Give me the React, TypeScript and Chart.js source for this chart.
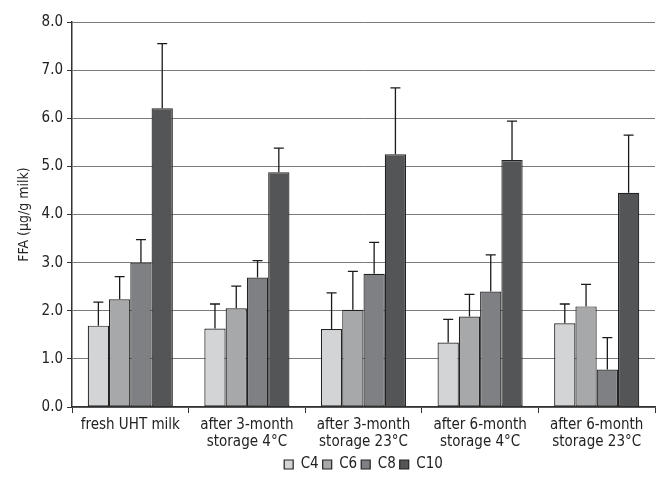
import React, { useEffect, useRef } from "react";
import { Chart, registerables } from "chart.js";

Chart.register(...registerables);

const categories: string[][] = [
  ["fresh UHT milk"],
  ["after 3-month", "storage 4°C"],
  ["after 3-month", "storage 23°C"],
  ["after 6-month", "storage 4°C"],
  ["after 6-month", "storage 23°C"],
];

const seriesNames = ["C4", "C6", "C8", "C10"];
const c4 = [1.69, 1.63, 1.62, 1.34, 1.74];
const c6 = [2.24, 2.05, 2.02, 1.88, 2.09];
const c8 = [3.0, 2.69, 2.77, 2.4, 0.78];
const c10 = [6.21, 4.88, 5.25, 5.13, 4.45];
const c4Err = [0.49, 0.51, 0.75, 0.48, 0.4];
const c6Err = [0.47, 0.46, 0.8, 0.46, 0.46];
const c8Err = [0.48, 0.35, 0.65, 0.76, 0.66];
const c10Err = [1.34, 0.5, 1.38, 0.81, 1.2];
const yTicks = [0, 1, 2, 3, 4, 5, 6, 7, 8];

const colors = ["#d3d4d6", "#a7a8aa", "#7f8083", "#545557"];
const FONT = "'DejaVu Sans Condensed', 'Liberation Sans Narrow', sans-serif";

const allValues = [c4, c6, c8, c10];
const allErrors = [c4Err, c6Err, c8Err, c10Err];

const errorBarsPlugin = {
  id: "errorBars",
  afterDatasetsDraw(chart: any) {
    const ctx = chart.ctx;
    const yScale = chart.scales.y;
    chart.data.datasets.forEach((ds: any, i: number) => {
      const meta = chart.getDatasetMeta(i);
      meta.data.forEach((bar: any, j: number) => {
        const v = allValues[i][j];
        const e = allErrors[i][j];
        const yBase = yScale.getPixelForValue(v);
        const yTop = yScale.getPixelForValue(v + e);
        ctx.save();
        ctx.strokeStyle = "#1a1a1a";
        ctx.lineWidth = 1.3;
        ctx.beginPath();
        ctx.moveTo(bar.x, yBase);
        ctx.lineTo(bar.x, yTop);
        ctx.moveTo(bar.x - 5, yTop);
        ctx.lineTo(bar.x + 5, yTop);
        ctx.stroke();
        ctx.restore();
      });
    });
  },
};

export default function App() {
  const ref = useRef<HTMLCanvasElement | null>(null);
  useEffect(() => {
    if (!ref.current) return;
    const chart = new Chart(ref.current, {
      type: "bar",
      data: {
        labels: categories,
        datasets: seriesNames.map((name, i) => ({
          label: name,
          data: allValues[i],
          backgroundColor: colors[i],
          borderColor: "#222",
          borderWidth: 1.2,
          borderSkipped: false,
          categoryPercentage: 0.73,
          barPercentage: 1.0,
        })),
      },
      options: {
        animation: false,
        responsive: true,
        maintainAspectRatio: false,
        layout: { padding: { left: 16, right: 3, top: 22, bottom: -3 } },
        plugins: {
          legend: {
            position: "bottom",
            fullSize: false,
            labels: {
              boxWidth: 9,
              boxHeight: 9,
              padding: 4,
              color: "#222",
              font: { family: FONT, size: 15 },
            },
          },
          tooltip: { enabled: false },
        },
        scales: {
          x: {
            grid: {
              offset: true,
              drawOnChartArea: false,
              tickLength: 6,
              tickColor: "#333",
            },
            border: { color: "#333", width: 1.5 },
            ticks: {
              color: "#222",
              font: { family: FONT, size: 15, lineHeight: 1.15 },
              maxRotation: 0,
              autoSkip: false,
              padding: 3,
            },
            afterFit: (scale: any) => {
              scale.height = 46;
            },
          },
          y: {
            min: 0,
            max: 8,
            afterBuildTicks: (scale: any) => {
              scale.ticks = yTicks.map((v) => ({ value: v }));
            },
            grid: {
              color: "#7a7a7a",
              lineWidth: 1,
              tickLength: 5,
              tickColor: "#333",
            },
            border: { color: "#333", width: 1.5 },
            ticks: {
              color: "#222",
              font: { family: FONT, size: 15 },
              padding: 4,
              callback: (v: any) => Number(v).toFixed(1),
            },
            title: {
              display: true,
              text: "FFA (μg/g milk)",
              color: "#222",
              font: { family: FONT, size: 14 },
              padding: { top: 0, bottom: 0 },
            },
            afterFit: (scale: any) => {
              scale.width = 56;
            },
          },
        },
      },
      plugins: [errorBarsPlugin],
    } as any);
    return () => chart.destroy();
  }, []);
  return (
    <div style={{ position: "absolute", left: 0, top: 0, width: 658, height: 479, background: "#fff" }}>
      <canvas ref={ref} />
    </div>
  );
}
